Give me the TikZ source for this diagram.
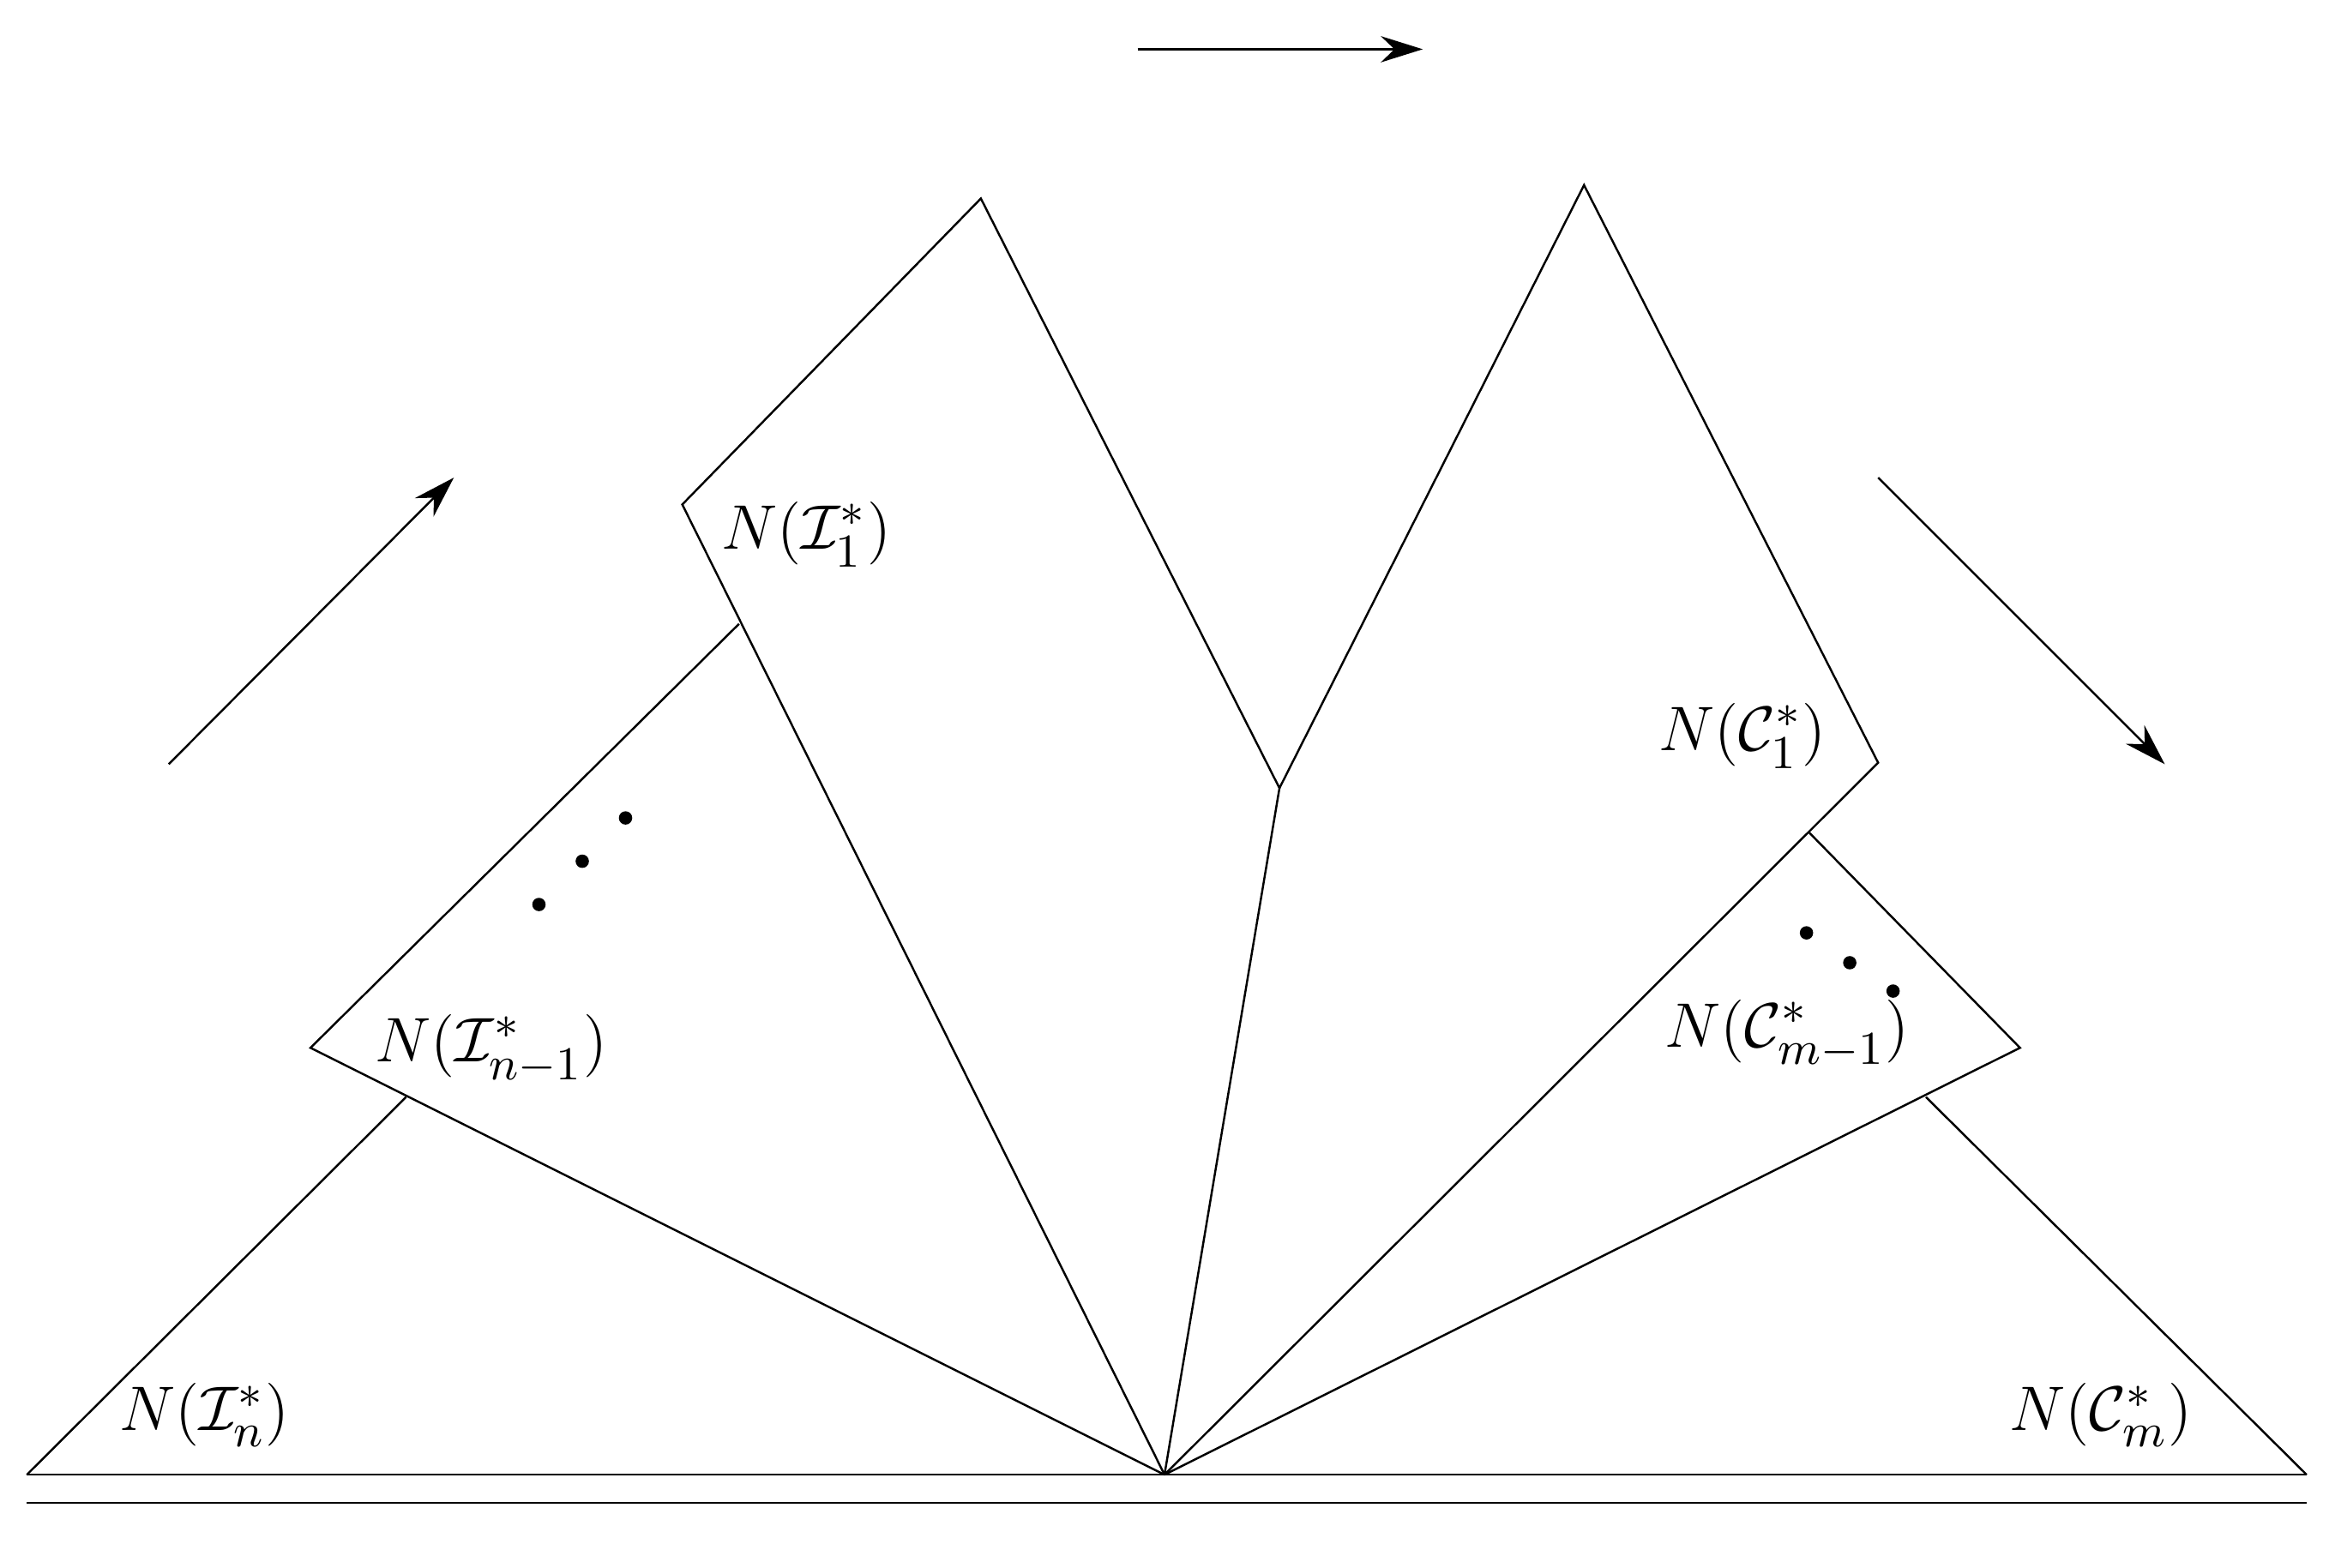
\documentclass[tikz,border=0pt]{standalone}
\usepackage{amsmath}
\usetikzlibrary{arrows.meta}
\begin{document}
\begin{tikzpicture}[x=0.1mm,y=-0.1mm,
    lbl/.style={font=\fontsize{12.5}{15}\selectfont,inner sep=1pt},
    dot/.style={circle,fill,inner sep=0.9pt}]
    \useasboundingbox (0,0) rectangle (1560,1050);

    %%% ground %%%
    \coordinate (O) at (780,988);
    \coordinate (GL) at (18,988);
    \coordinate (GR) at (1545,988);
    \draw (GL) -- (GR);
    \draw (18,1007) -- (1545,1007);

    %%% left side %%%
    \coordinate (In) at (272,735);
    \coordinate (Im) at (208,702);
    \coordinate (Imt) at (495,418);
    \coordinate (I1) at (457,338);
    \coordinate (I1t) at (657,133);
    \coordinate (M) at (857,528);

    \draw (GL) -- (In);
    \draw (Imt) -- (Im) -- (O);
    \draw (O) -- (I1) -- (I1t) -- (M) -- (O);

    %%% right side %%%
    \coordinate (C1t) at (1061,124);
    \coordinate (C1) at (1258,511);
    \coordinate (Cmt) at (1212,558);
    \coordinate (Cm) at (1353,702);
    \coordinate (Cn) at (1290,735);

    \draw (M) -- (C1t) -- (C1) -- (O);
    \draw (Cmt) -- (Cm) -- (O);
    \draw (Cn) -- (GR);

    %%% dots %%%
    \foreach \p [count=\i] in {(361,606),(390,577),(419,548)}
        \node[dot] (dl\i) at \p {};
    \foreach \p [count=\i] in {(1210,625),(1239,645),(1268,664)}
        \node[dot] (dr\i) at \p {};

    %%% labels %%%
    \node[lbl] (LI1) at (540,358) {$N(\mathcal{I}_1^*)$};
    \node[lbl] (LIm) at (329,703) {$N(\mathcal{I}_{n-1}^*)$};
    \node[lbl] (LIn) at (137,948) {$N(\mathcal{I}_n^*)$};
    \node[lbl] (LC1) at (1167,493) {$N(\mathcal{C}_1^*)$};
    \node[lbl] (LCm) at (1197,693) {$N(\mathcal{C}_{m-1}^*)$};
    \node[lbl] (LCn) at (1407,948) {$N(\mathcal{C}_m^*)$};

    %%% arrows %%%
    \coordinate (a1) at (113,512); \coordinate (a2) at (304,320);
    \coordinate (b1) at (762,33);  \coordinate (b2) at (953,33);
    \coordinate (c1) at (1258,320); \coordinate (c2) at (1450,512);
    \draw[-{Stealth[length=8pt,width=5pt]}] (a1) -- (a2);
    \draw[-{Stealth[length=8pt,width=5pt]}] (b1) -- (b2);
    \draw[-{Stealth[length=8pt,width=5pt]}] (c1) -- (c2);
\end{tikzpicture}
\end{document}
